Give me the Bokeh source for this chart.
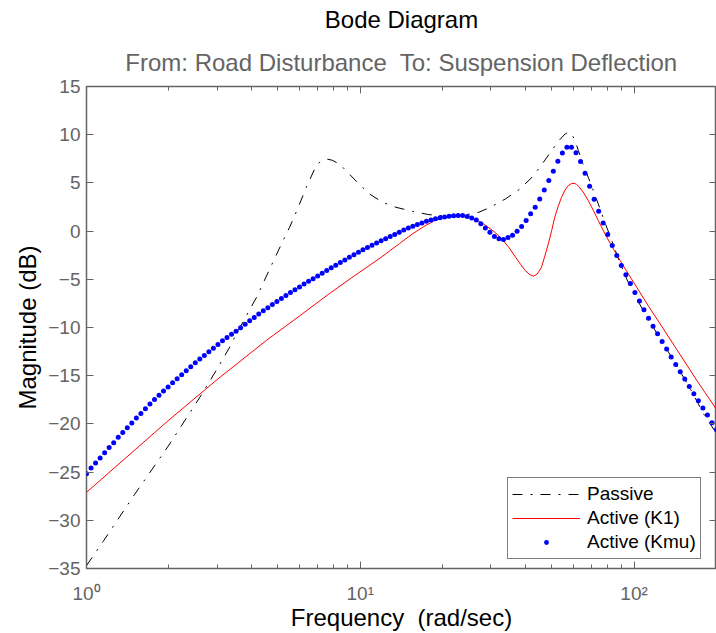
import numpy as np
from bokeh.plotting import figure
from bokeh.models import (Range1d, LinearAxis, LogAxis, FixedTicker, CustomJSTickFormatter,
                          Title, Legend, LegendItem)
from bokeh.embed import file_html
from bokeh.resources import INLINE

# ---------------- data ----------------
# Passive suspension (black dash-dot)
passive_f = [1.0, 1.15, 1.5, 2.0, 2.6, 3.0, 3.34, 3.53, 4.18, 4.8, 5.2, 5.52, 5.92, 6.35, 6.9,
             7.2, 7.5, 7.9, 8.4, 8.87, 9.8, 10.8, 12.05, 13.5, 15.5, 17.8, 20.0, 22.3, 24.5,
             27.1, 30.0, 33.9, 38.0, 42.4, 46.0, 50.0, 53.0, 56.0, 57.5, 59.0, 60.8, 62.6, 65.0,
             68.0, 71.0, 74.0, 78.0, 82.7, 88.0, 95.1, 101.0, 109.0, 122.3, 140.0, 160.0, 180.6, 200.0]
passive_db = [-34.7, -32.2, -27.3, -22.2, -17.2, -14.3, -12.0, -10.65, -6.86, -3.2, -1.1, 0.4, 2.4,
              4.54, 6.79, 7.3, 7.49, 7.35, 6.95, 6.27, 5.0, 3.86, 2.99, 2.47, 2.05, 1.71, 1.6, 1.61,
              1.72, 1.95, 2.5, 3.34, 4.3, 5.58, 6.9, 8.35, 9.35, 10.08, 10.24, 10.1, 9.45, 8.35, 7.0,
              5.58, 4.2, 2.82, 1.0, -0.9, -3.0, -5.3, -6.8, -8.4, -10.8, -13.5, -16.3, -19.1, -21.0]

# Active (K1) (red solid)
k1_f = [1.0, 2.0, 3.0, 4.54, 6.0, 7.7, 9.5, 11.7, 13.9, 15.5, 17.0, 18.6, 20.0, 21.5, 22.9, 24.6,
        26.5, 28.5, 30.8, 32.9, 35.0, 36.9, 38.5, 40.0, 41.5, 42.9, 44.3, 45.9, 47.2, 48.6, 50.0,
        51.3, 52.8, 54.3, 55.9, 57.5, 59.0, 60.3, 61.6, 62.9, 65.5, 68.0, 71.0, 74.0, 78.0, 83.0,
        90.0, 97.8, 113.0, 140.0, 170.0, 200.0]
k1_db = [-27.1, -19.6, -15.4, -11.34, -8.8, -6.5, -4.65, -2.88, -1.3, -0.29, 0.45, 1.05, 1.4, 1.56,
         1.61, 1.5, 1.18, 0.65, -0.05, -0.8, -1.75, -2.7, -3.45, -4.08, -4.5, -4.67, -4.45, -3.75,
         -2.6, -1.33, 0.05, 1.43, 2.55, 3.5, 4.25, 4.72, 4.92, 4.96, 4.85, 4.62, 3.95, 3.17, 2.15,
         1.1, -0.2, -1.6, -3.3, -4.95, -7.8, -11.85, -15.55, -18.5]

# Active (Kmu) (blue dots), 140 log-spaced sample frequencies from 1 to 200 rad/s
kmu_f = np.logspace(0, np.log10(200), 140)
kmu_db = [-25.16, -24.57, -24.05, -23.54, -22.98, -22.46, -21.95, -21.39, -20.88, -20.39,
          -19.91, -19.39, -18.91, -18.42, -17.94, -17.46, -17.04, -16.59, -16.18, -15.73,
          -15.31, -14.90, -14.49, -14.07, -13.66, -13.28, -12.90, -12.52, -12.14, -11.76,
          -11.38, -11.03, -10.69, -10.38, -10.02, -9.66, -9.31, -8.96, -8.61, -8.27,
          -7.94, -7.62, -7.30, -6.99, -6.68, -6.38, -6.08, -5.79, -5.50, -5.21,
          -4.93, -4.65, -4.37, -4.08, -3.80, -3.53, -3.26, -2.99, -2.72, -2.46,
          -2.19, -1.93, -1.69, -1.46, -1.23, -1.01, -0.79, -0.57, -0.35, -0.12,
          0.12, 0.33, 0.51, 0.68, 0.85, 1.01, 1.15, 1.27, 1.39, 1.47,
          1.54, 1.58, 1.61, 1.61, 1.51, 1.37, 1.16, 0.75, 0.33, -0.11,
          -0.56, -0.80, -0.87, -0.67, -0.43, -0.01, 0.47, 1.09, 1.80, 2.48,
          3.34, 4.27, 5.24, 6.21, 7.24, 8.11, 8.69, 8.69, 8.14, 7.21,
          6.00, 4.65, 3.31, 2.06, 0.85, -0.36, -1.50, -2.53, -3.57, -4.52,
          -5.44, -6.37, -7.24, -8.15, -9.03, -9.86, -10.65, -11.45, -12.24, -13.07,
          -13.83, -14.59, -15.35, -16.11, -16.87, -17.59, -18.35, -19.08, -19.87, -20.60]

x_major = [1, 10, 100]
x_minor = [2, 3, 4, 5, 6, 7, 8, 9, 20, 30, 40, 50, 60, 70, 80, 90, 200]
y_ticks = [-35, -30, -25, -20, -15, -10, -5, 0, 5, 10, 15]

title_text = "Bode Diagram"
subtitle_text = "From: Road Disturbance\u00a0 To: Suspension Deflection"
xlabel = "Frequency\u00a0 (rad/sec)"
ylabel = "Magnitude (dB)"
labels = ["Passive", "Active (K1)", "Active (Kmu)"]

# ---------------- styling ----------------
FONT = "Liberation Sans"
GRAY = "#646464"

p = figure(width=716, height=633, x_axis_type="log",
           x_range=Range1d(1, 200), y_range=Range1d(-35, 15),
           output_backend="svg", toolbar_location=None, title=title_text,
           min_border_left=86, min_border_right=0, min_border_top=86, min_border_bottom=65)
p.background_fill_color = "white"
p.border_fill_color = "white"
p.xgrid.visible = False
p.ygrid.visible = False
p.outline_line_color = GRAY
p.outline_line_width = 1.5

xticker = FixedTicker(ticks=x_major, minor_ticks=x_minor)
yticker = FixedTicker(ticks=y_ticks)

xfmt = CustomJSTickFormatter(code="""
const e = Math.round(Math.log(tick) / Math.LN10);
const s = ["\\u2070", "\\u00b9", "\\u00b2", "\\u00b3"];
return "10" + s[e];
""")
yfmt = CustomJSTickFormatter(code="""
return tick < 0 ? "\\u2212" + (-tick) : "" + tick;
""")
blankfmt = CustomJSTickFormatter(code='return " ";')

def style_axis(ax, show_labels):
    ax.axis_line_color = None
    ax.major_tick_in = 7
    ax.major_tick_out = 0
    ax.minor_tick_in = 4
    ax.minor_tick_out = 0
    ax.major_tick_line_color = GRAY
    ax.minor_tick_line_color = GRAY
    if show_labels:
        ax.major_label_text_font = FONT
        ax.major_label_text_font_size = "19px"
        ax.major_label_text_color = GRAY
        ax.axis_label_text_font = FONT
        ax.axis_label_text_font_size = "24px"
        ax.axis_label_text_font_style = "normal"
        ax.axis_label_text_color = "black"
    else:
        ax.formatter = blankfmt
        ax.major_label_text_font_size = "2px"
        ax.major_label_text_alpha = 0
        ax.major_label_standoff = 0

bx = p.xaxis[0]
bx.ticker = xticker
bx.formatter = xfmt
bx.axis_label = xlabel
style_axis(bx, True)
bx.major_label_standoff = 14
bx.axis_label_standoff = -3

ly = p.yaxis[0]
ly.ticker = yticker
ly.formatter = yfmt
ly.axis_label = ylabel
style_axis(ly, True)
ly.major_label_standoff = 6
ly.axis_label_standoff = 4

top_ax = LogAxis(ticker=xticker)
style_axis(top_ax, False)
p.add_layout(top_ax, "above")

right_ax = LinearAxis(ticker=yticker)
style_axis(right_ax, False)
p.add_layout(right_ax, "right")

sub = Title(text=subtitle_text, align="center", text_font=FONT, text_font_size="24px",
            text_font_style="normal", text_color=GRAY, standoff=22)
p.add_layout(sub, "above")

p.title.align = "center"
p.title.text_font = FONT
p.title.text_font_size = "24px"
p.title.text_font_style = "normal"
p.title.text_color = "black"
p.title.standoff = 6

r_pass = p.line(passive_f, passive_db, line_color="black", line_width=1, line_dash="10 8 2 8")
r_k1 = p.line(k1_f, k1_db, line_color="red", line_width=1)
r_kmu = p.scatter(kmu_f, kmu_db, marker="circle", size=5, fill_color="blue", line_color=None)

legend = Legend(items=[LegendItem(label=labels[0], renderers=[r_pass]),
                       LegendItem(label=labels[1], renderers=[r_k1]),
                       LegendItem(label=labels[2], renderers=[r_kmu])],
                location=(421, 9), padding=4, spacing=0, margin=0,
                label_height=24, glyph_height=12, glyph_width=68, label_standoff=7,
                label_text_font=FONT, label_text_font_size="19px", label_text_color="black",
                border_line_color="black", border_line_width=1,
                background_fill_color="white", background_fill_alpha=1)
p.add_layout(legend)

with open("out.html", "w", encoding="utf-8") as fh:
    fh.write(file_html(p, INLINE))
